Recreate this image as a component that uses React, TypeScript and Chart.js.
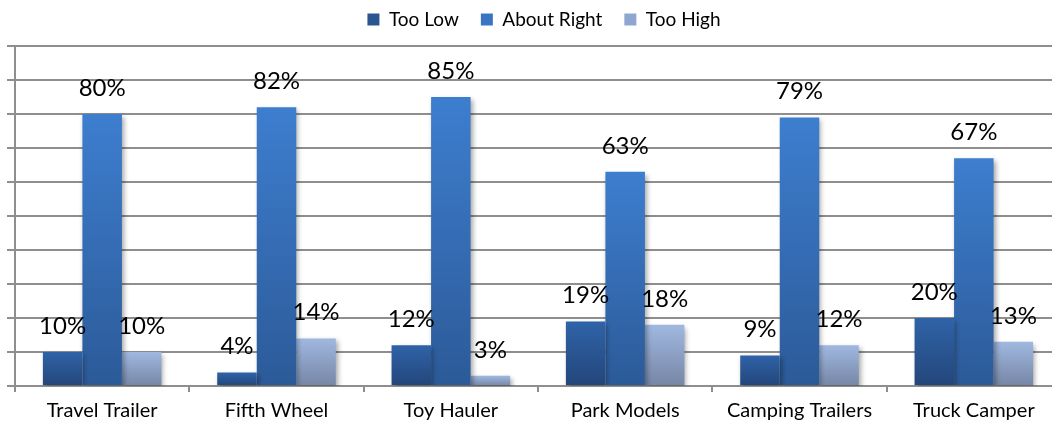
import React, { useEffect, useRef } from "react";
import { Chart, registerables } from "chart.js";

Chart.register(...registerables);

const categories = ["Travel Trailer", "Fifth Wheel", "Toy Hauler", "Park Models", "Camping Trailers", "Truck Camper"];
const seriesNames = ["Too Low", "About Right", "Too High"];
const tooLow = [10, 4, 12, 19, 9, 20];
const aboutRight = [80, 82, 85, 63, 79, 67];
const tooHigh = [10, 14, 3, 18, 12, 13];
const yMax = 100;
const yStep = 10;

const FONT = "Lato, 'Open Sans', sans-serif";
const GRID = "#8e8e8e";

const palette = [
  { top: "#2F63A8", bottom: "#23467A", solid: "#2A5590" },
  { top: "#3D7ECF", bottom: "#2C5A98", solid: "#3A75C4" },
  { top: "#A0B8E0", bottom: "#7686A6", solid: "#8FA6D0" },
];

const gradientFill = (p: { top: string; bottom: string; solid: string }) => (ctx: any) => {
  const chart = ctx.chart;
  const y = chart.scales && chart.scales.y;
  if (ctx.type !== "data" || !y || ctx.raw == null) return p.solid;
  const yt = y.getPixelForValue(ctx.raw);
  const yb = y.getPixelForValue(0);
  if (!isFinite(yt) || !isFinite(yb) || Math.abs(yb - yt) < 0.5) return p.solid;
  const g = chart.ctx.createLinearGradient(0, yt, 0, yb);
  g.addColorStop(0, p.top);
  g.addColorStop(1, p.bottom);
  return g;
};

const shadowPlugin = {
  id: "barShadow",
  beforeDatasetDraw(chart: any) {
    const c = chart.ctx;
    c.save();
    c.shadowColor = "rgba(0,0,0,0.35)";
    c.shadowBlur = 5;
    c.shadowOffsetX = 2;
    c.shadowOffsetY = 3;
  },
  afterDatasetDraw(chart: any) {
    chart.ctx.restore();
  },
};

const labelPlugin = {
  id: "valueLabels",
  afterDatasetsDraw(chart: any) {
    const c = chart.ctx;
    c.save();
    c.font = `24px ${FONT}`;
    c.fillStyle = "#000";
    c.textAlign = "center";
    c.textBaseline = "alphabetic";
    chart.data.datasets.forEach((ds: any, i: number) => {
      const meta = chart.getDatasetMeta(i);
      meta.data.forEach((el: any, j: number) => {
        c.fillText(`${ds.data[j]}%`, el.x, el.y - 18);
      });
    });
    c.restore();
  },
};

const legendPlugin = {
  id: "legendFit",
  beforeInit(chart: any) {
    const legend = chart.legend;
    if (!legend) return;
    const orig = legend.fit;
    legend.fit = function () {
      orig.call(this);
      this.height = 58;
    };
  },
  afterLayout(chart: any) {
    const legend = chart.legend;
    if (!legend) return;
    legend.left += 10;
    legend.right += 10;
  },
};

export default function App() {
  const ref = useRef<HTMLCanvasElement | null>(null);

  useEffect(() => {
    if (!ref.current) return;
    const series = [tooLow, aboutRight, tooHigh];
    const chart = new Chart(ref.current, {
      type: "bar",
      data: {
        labels: categories,
        datasets: series.map((d, i) => ({
          label: seriesNames[i],
          data: d,
          backgroundColor: gradientFill(palette[i]),
          borderWidth: 0,
          barPercentage: 1,
          categoryPercentage: 0.68,
        })),
      },
      options: {
        responsive: false,
        animation: false,
        devicePixelRatio: 1,
        layout: { padding: { left: 7, right: 9, top: -12, bottom: -6 } },
        plugins: {
          legend: {
            position: "top",
            labels: {
              boxWidth: 12,
              boxHeight: 12,
              padding: 22,
              color: "#000",
              font: { family: FONT, size: 19 },
              generateLabels: (ch: any) =>
                ch.data.datasets.map((ds: any, i: number) => ({
                  text: ds.label,
                  fillStyle: palette[i].solid,
                  strokeStyle: palette[i].solid,
                  lineWidth: 0,
                  hidden: false,
                  datasetIndex: i,
                })),
            },
          },
          tooltip: { enabled: false },
        },
        scales: {
          x: {
            grid: { drawOnChartArea: false, color: GRID, tickLength: 6, lineWidth: 2, offset: true },
            border: { color: GRID, width: 2 },
            ticks: { color: "#000", font: { family: FONT, size: 20 }, padding: 7, maxRotation: 0 },
          },
          y: {
            min: 0,
            max: yMax,
            ticks: { display: false, stepSize: yStep },
            grid: { color: GRID, lineWidth: 2, tickLength: 8 },
            border: { color: GRID, width: 2 },
          },
        },
      },
      plugins: [legendPlugin, shadowPlugin, labelPlugin],
    });
    return () => chart.destroy();
  }, []);

  return (
    <div style={{ position: "fixed", left: 0, top: 0, width: 1052, height: 424, overflow: "hidden", background: "#fff" }}>
      <canvas ref={ref} width={1070} height={424} style={{ display: "block" }} />
    </div>
  );
}
